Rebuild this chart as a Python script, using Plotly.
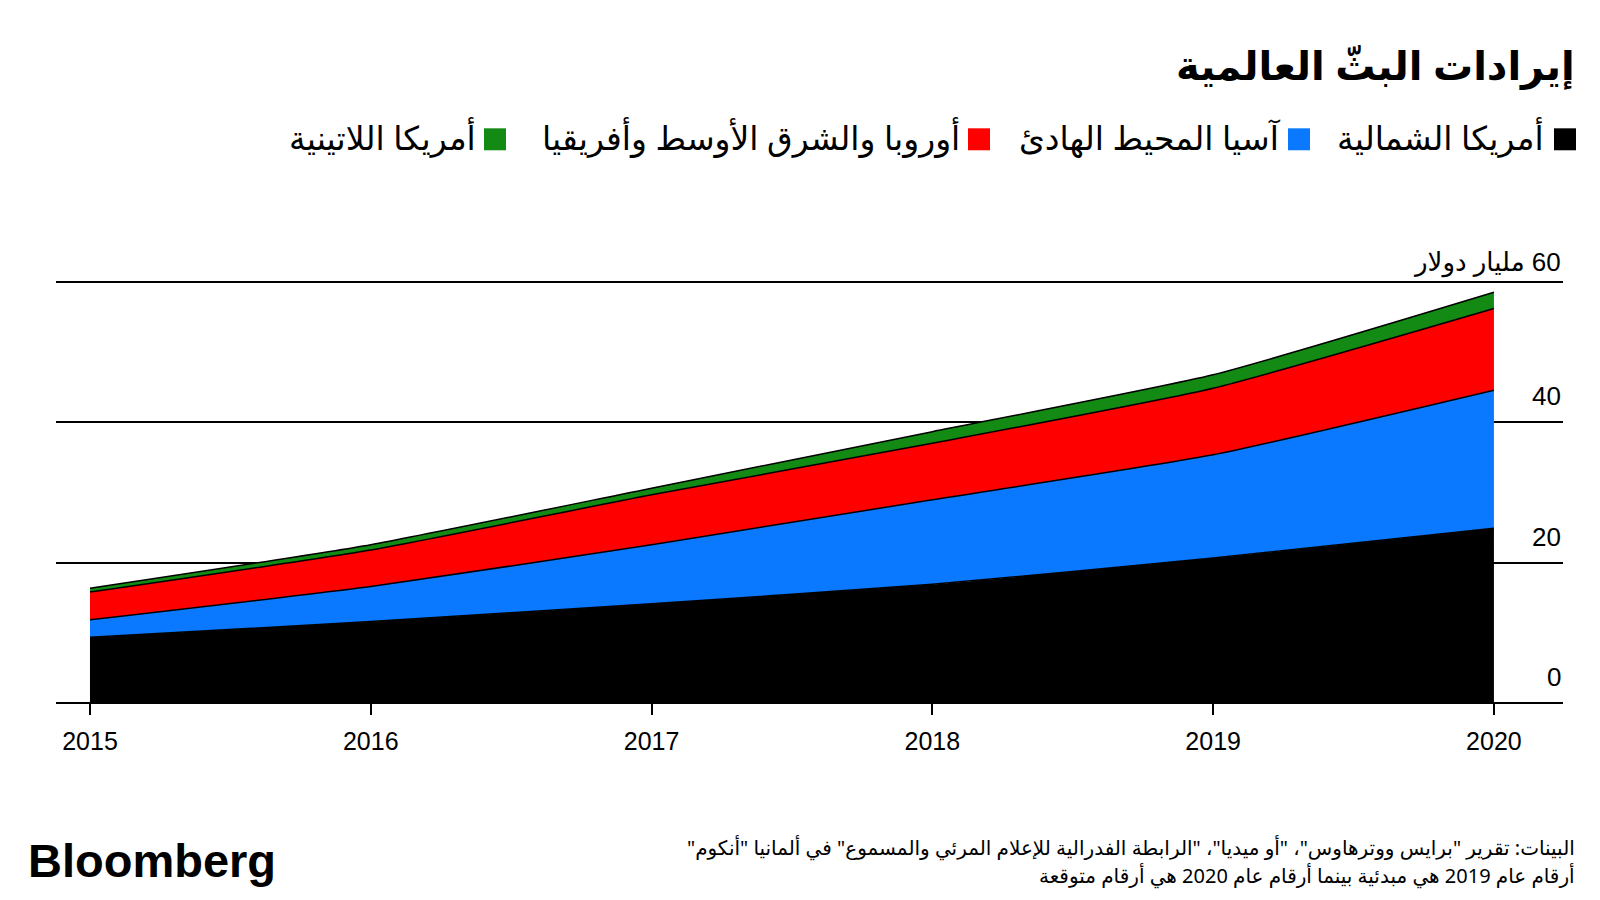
import plotly.graph_objects as go

years = [2015, 2016, 2017, 2018, 2019, 2020]
north_america = [9.35, 11.6, 14.15, 16.9, 20.65, 24.9]
asia_pacific = [2.5, 5.0, 8.4, 12.05, 14.7, 19.65]
emea = [3.95, 5.2, 7.1, 8.05, 9.5, 11.65]
latin_america = [0.55, 0.75, 0.95, 1.65, 1.9, 2.3]

series_names = ["أمريكا الشمالية", "آسيا المحيط الهادئ", "أوروبا والشرق الأوسط وأفريقيا", "أمريكا اللاتينية"]
series_values = [north_america, asia_pacific, emea, latin_america]
series_colors = ["#000000", "#0a78ff", "#ff0000", "#138a13"]

y_ticks = [0, 20, 40, 60]
y_ticktext = ["0", "20", "40", "\u200f60 مليار دولار"]

title = "إيرادات البثّ العالمية"
source_1 = 'البينات: تقرير "برايس ووترهاوس"، "أو ميديا"، "الرابطة الفدرالية للإعلام المرئي والمسموع" في ألمانيا "أنكوم"\u200f'
source_2 = "أرقام عام 2019 هي مبدئية بينما أرقام عام 2020 هي أرقام متوقعة"

W, H = 1600, 900
ml, mr, mt, mb = 56, 37, 278.9, 196.5
pw, ph = W - ml - mr, H - mt - mb


def px(x):
    return (x - ml) / pw


def py(y):
    return (H - mb - y) / ph


AR_FONT = "Noto Sans, DejaVu Sans, sans-serif"
LAT_FONT = "Liberation Sans, Arial, sans-serif"

fig = go.Figure()
for name, vals, col in zip(series_names, series_values, series_colors):
    fig.add_trace(go.Scatter(
        x=years, y=vals, name=name, stackgroup="one", mode="lines",
        line=dict(color="#000000", width=1.5, shape="spline", smoothing=0.5),
        fillcolor=col, showlegend=False, hoverinfo="skip",
    ))

fig.update_layout(
    width=W, height=H,
    margin=dict(l=ml, r=mr, t=mt, b=mb, pad=0),
    paper_bgcolor="white", plot_bgcolor="white",
    xaxis=dict(
        range=[2014.879, 2020.246], tickmode="array", tickvals=years,
        ticktext=[str(y) for y in years], ticks="outside", ticklen=11,
        tickwidth=1.5, tickcolor="black", showgrid=False, zeroline=False,
        showline=False, ticklabelstandoff=5,
        tickfont=dict(family=LAT_FONT, size=25, color="black"),
    ),
    yaxis=dict(
        range=[0, 60.4], tickmode="array", tickvals=y_ticks,
        showticklabels=False, showgrid=True, gridcolor="black", gridwidth=1.5,
        zeroline=True, zerolinecolor="black", zerolinewidth=2, showline=False,
        ticks="",
    ),
)

annotations = [
    dict(text="<b>" + title + "</b>", x=px(1577), y=py(64), xref="paper", yref="paper",
         xanchor="right", yanchor="middle", showarrow=False,
         font=dict(family=AR_FONT, size=40, color="black")),
    dict(text=source_1, x=px(1577), y=py(848), xref="paper", yref="paper",
         xanchor="right", yanchor="middle", showarrow=False,
         font=dict(family=AR_FONT, size=20, color="black")),
    dict(text=source_2, x=px(1577), y=py(876), xref="paper", yref="paper",
         xanchor="right", yanchor="middle", showarrow=False,
         font=dict(family=AR_FONT, size=20, color="black")),
    dict(text="<b>Bloomberg</b>", x=px(26), y=py(861), xref="paper", yref="paper",
         xanchor="left", yanchor="middle", showarrow=False,
         font=dict(family=LAT_FONT, size=47, color="black")),
]

for val, txt in zip(y_ticks, y_ticktext):
    annotations.append(dict(text=txt, x=1, y=val, xref="paper", yref="y",
                            xanchor="right", yanchor="bottom",
                            yshift=2 if val == 60 else 9, showarrow=False,
                            font=dict(family="Liberation Sans, DejaVu Sans, sans-serif",
                                      size=26, color="black")))

legend_square_left = [1554, 1288, 968, 484]
legend_text_right = [1546, 1283, 962, 478]
shapes = []
for name, col, sq, tr in zip(series_names, series_colors, legend_square_left, legend_text_right):
    shapes.append(dict(type="rect", xref="paper", yref="paper",
                       x0=px(sq), x1=px(sq + 22), y0=py(150), y1=py(128),
                       fillcolor=col, line=dict(width=0)))
    annotations.append(dict(text=name, x=px(tr), y=py(137), xref="paper", yref="paper",
                            xanchor="right", yanchor="middle", showarrow=False,
                            font=dict(family=AR_FONT, size=33, color="black")))

fig.update_layout(annotations=annotations, shapes=shapes)
fig.write_html("out.html", config={"displayModeBar": False},
               post_script="document.body.style.margin='0';")
